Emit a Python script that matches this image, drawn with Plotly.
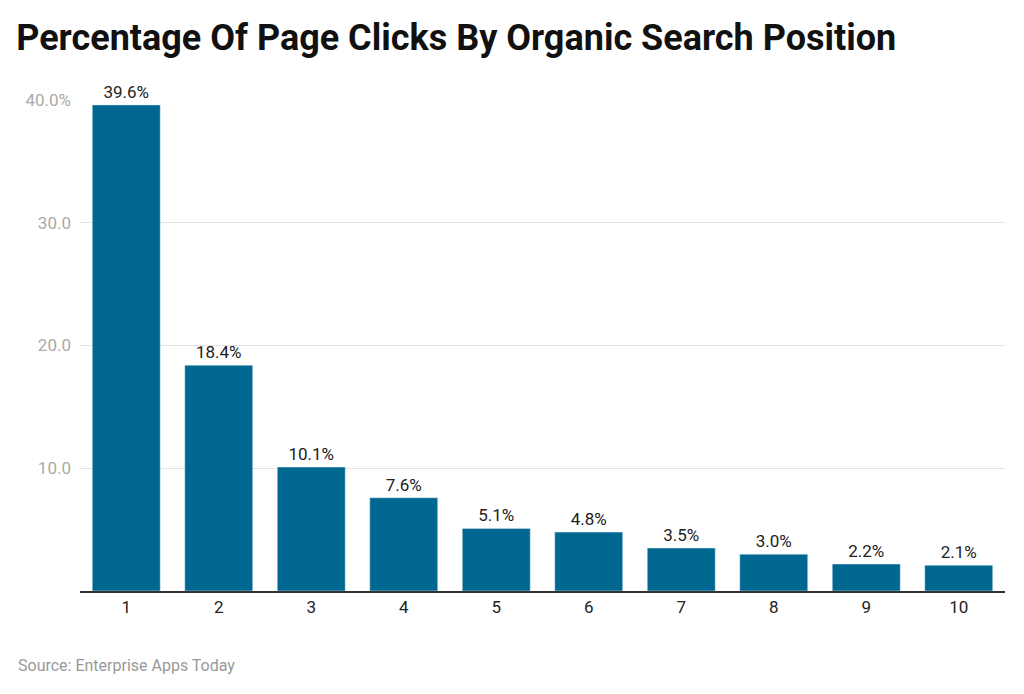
import plotly.graph_objects as go

# Data.
positions = ["1", "2", "3", "4", "5", "6", "7", "8", "9", "10"]
click_pct = [39.6, 18.4, 10.1, 7.6, 5.1, 4.8, 3.5, 3.0, 2.2, 2.1]
y_ticks = [10, 20, 30, 40]
y_tick_labels = ["10.0", "20.0", "30.0", "40.0%"]

fig = go.Figure()
fig.add_trace(go.Bar(
    x=positions,
    y=click_pct,
    marker_color="#006890",
    text=[f"{v:.1f}%" for v in click_pct],
    textposition="outside",
    textfont=dict(size=17, color="#222222"),
    cliponaxis=False,
))

fig.update_layout(
    width=1024,
    height=694,
    margin=dict(l=72, r=27, t=92, b=111),
    paper_bgcolor="white",
    plot_bgcolor="white",
    font=dict(family="Roboto, sans-serif", size=16, color="#222222"),
    bargap=0.265,
    showlegend=False,
    title=dict(
        text="<b>Percentage Of Page Clicks By Organic Search Position</b>",
        x=0.008, xanchor="left", y=0.957, yanchor="middle",
        font=dict(size=36, color="#111111"),
    ),
    annotations=[dict(
        text="Source: Enterprise Apps Today",
        xref="paper", yref="paper", x=-0.069, y=-0.151,
        xanchor="left", yanchor="middle", showarrow=False,
        font=dict(size=16, color="#999999"),
    )],
)

fig.update_xaxes(
    type="category",
    showgrid=False,
    showline=True, linecolor="#333333", linewidth=1.5,
    ticks="", tickfont=dict(size=17, color="#222222"),
)
fig.update_yaxes(
    range=[0, 40],
    tickvals=y_ticks, ticktext=y_tick_labels,
    showgrid=True, gridcolor="#e3e3e3",
    zeroline=False, showline=False,
    tickfont=dict(size=17, color="#aaaaaa"),
    ticks="", ticklabelstandoff=8,
)

fig.write_html("out.html")
